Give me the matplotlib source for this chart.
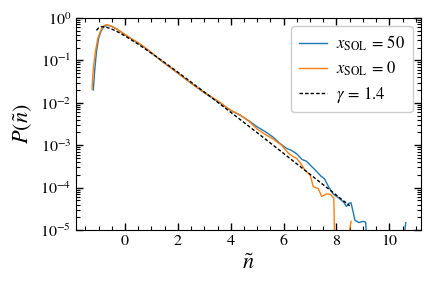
import matplotlib
matplotlib.use("Agg")
import matplotlib.pyplot as plt
import numpy as np

plt.rcParams['font.family'] = ['STIXGeneral', 'DejaVu Serif']
plt.rcParams['mathtext.fontset'] = 'stix'

# x_SOL = 50 (blue)
n_sol50 = [-1.2, -1.15, -1.08, -1.0, -0.9, -0.8, -0.7, -0.6, -0.45, -0.3, -0.15, 0.0,
           0.25, 0.5, 0.75, 1.0, 1.25, 1.5, 2.0, 2.5, 3.0, 3.5, 4.0, 4.35, 4.7, 5.0,
           5.3, 5.6, 5.86, 6.1, 6.3, 6.49, 6.7, 6.86, 7.05, 7.25, 7.4, 7.55, 7.7, 7.88,
           8.1, 8.26, 8.38, 8.45, 8.55, 8.7, 8.85, 9.0, 9.1, 9.25, 10.4, 10.62]
p_sol50 = [0.02, 0.055, 0.16, 0.33, 0.5, 0.62, 0.67, 0.66, 0.61, 0.54, 0.47, 0.40,
           0.32, 0.255, 0.2, 0.15, 0.113, 0.085, 0.05, 0.029, 0.0172, 0.0108, 0.0066,
           0.0051, 0.0037, 0.0027, 0.0021, 0.00155, 0.0011, 0.00085, 0.00075, 0.00063,
           0.00046, 0.00042, 0.00032, 0.00024, 0.00019, 0.00016, 0.000105, 7e-5,
           5.6e-5, 4.6e-5, 3.6e-5, 4.2e-5, 4.4e-5, 1.7e-5, 1.5e-5, 1.6e-5, 1.55e-5,
           1e-6, 1e-6, 1.5e-5]

# x_SOL = 0 (orange)
n_sol0 = [-1.25, -1.2, -1.12, -1.03, -0.91, -0.8, -0.72, -0.6, -0.45, -0.3, -0.15, 0.0,
          0.25, 0.5, 0.75, 1.0, 1.25, 1.5, 2.0, 2.5, 3.0, 3.5, 4.0, 4.35, 4.7, 5.0,
          5.3, 5.6, 5.92, 6.18, 6.35, 6.49, 6.65, 6.8, 7.0, 7.12, 7.31, 7.44, 7.62,
          7.78, 7.9, 7.95, 8.42, 8.55]
p_sol0 = [0.021, 0.065, 0.16, 0.33, 0.52, 0.65, 0.69, 0.67, 0.61, 0.54, 0.47, 0.405,
          0.32, 0.26, 0.2, 0.152, 0.112, 0.085, 0.05, 0.029, 0.0175, 0.0112, 0.0066,
          0.0052, 0.0036, 0.0024, 0.0018, 0.0014, 0.001, 0.00065, 0.00054, 0.00049,
          0.00037, 0.00026, 0.0002, 0.000105, 9.5e-5, 6.2e-5, 7.1e-5, 6.9e-5, 5.6e-5,
          1e-6, 5e-6, 1.6e-5]

# gamma fit, gamma = 1.4 (dashed)
n_fit = [-1.08, -1.0, -0.9, -0.8, -0.7, -0.5, -0.25, 0.0, 0.5, 1.0, 1.5, 2.0, 3.0,
         4.0, 5.0, 6.0, 7.0, 8.0, 8.5]
p_fit = [0.509, 0.582, 0.616, 0.618, 0.602, 0.546, 0.46, 0.376, 0.24, 0.147, 0.0885,
         0.0524, 0.0179, 0.00597, 0.00197, 0.000639, 0.000206, 6.61e-5, 3.73e-5]

fig = plt.figure(figsize=(4.35, 2.89), dpi=100)
ax = fig.add_axes([0.175, 0.204, 0.793, 0.734])

ax.plot(n_sol50, p_sol50, color='#1f77b4', lw=1.0, label=r'$x_{\rm SOL}\,=\,50$')
ax.plot(n_sol0, p_sol0, color='#ff7f0e', lw=1.0, label=r'$x_{\rm SOL}\,=\,0$')
ax.plot(n_fit, p_fit, color='black', lw=1.0, ls='--', dashes=(2.5, 1.5), label=r'$\gamma\,=\,1.4$')

ax.set_yscale('log')
ax.set_xlim(-1.85, 11.2)
ax.set_ylim(1e-5, 1)
ax.set_xticks([0, 2, 4, 6, 8, 10])
ax.xaxis.set_minor_locator(matplotlib.ticker.MultipleLocator(0.5))
ax.yaxis.set_minor_locator(matplotlib.ticker.LogLocator(base=10, subs=np.arange(2, 10), numticks=20))
ax.yaxis.set_minor_formatter(matplotlib.ticker.NullFormatter())
ax.tick_params(which='both', direction='in', top=True, right=True, labelsize=11.5)
ax.tick_params(which='major', length=5, width=1)
ax.tick_params(which='minor', length=3, width=0.8)

ax.set_xlabel(r'$\tilde{n}$', fontsize=16)
ax.set_ylabel(r'$P(\tilde{n})$', fontsize=16)
ax.legend(loc='upper right', fontsize=12, framealpha=1, edgecolor='#cccccc',
          handlelength=1.7, handletextpad=0.55, labelspacing=0.4, borderpad=0.45)

fig.savefig('out.png', dpi=100)
